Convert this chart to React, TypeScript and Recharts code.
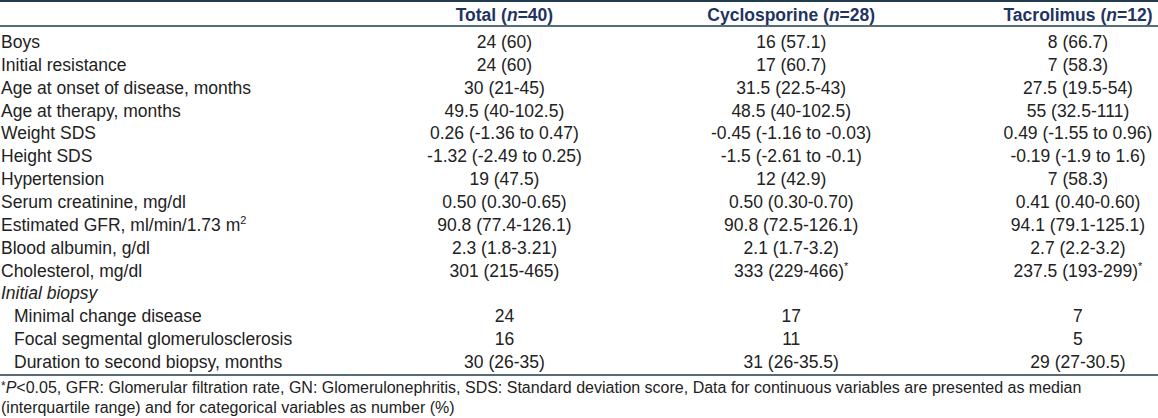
import React from "react";
import { ScatterChart, Scatter, XAxis, YAxis } from "recharts";

const FONT = "'Liberation Sans', Arial, Helvetica, sans-serif";
const TEXT = "#222222";
const HEAD = "#1f3461";
const RULE = "#1f3b4d";

// column headers
const columnHeaders = ["Total", "Cyclosporine", "Tacrolimus"];
const columnCounts = [40, 28, 12];

// row labels (y categories)
const rowLabels = [
    "Boys",
    "Initial resistance",
    "Age at onset of disease, months",
    "Age at therapy, months",
    "Weight SDS",
    "Height SDS",
    "Hypertension",
    "Serum creatinine, mg/dl",
    "Estimated GFR, ml/min/1.73 m²",
    "Blood albumin, g/dl",
    "Cholesterol, mg/dl",
    "Initial biopsy",
    "Minimal change disease",
    "Focal segmental glomerulosclerosis",
    "Duration to second biopsy, months",
];
const sectionRows = ["Initial biopsy"];
const subRows = [
    "Minimal change disease",
    "Focal segmental glomerulosclerosis",
    "Duration to second biopsy, months",
];

// cell values per column
const totalValues = [
    "24 (60)", "24 (60)", "30 (21-45)", "49.5 (40-102.5)", "0.26 (-1.36 to 0.47)",
    "-1.32 (-2.49 to 0.25)", "19 (47.5)", "0.50 (0.30-0.65)", "90.8 (77.4-126.1)",
    "2.3 (1.8-3.21)", "301 (215-465)", "", "24", "16", "30 (26-35)",
];
const cyclosporineValues = [
    "16 (57.1)", "17 (60.7)", "31.5 (22.5-43)", "48.5 (40-102.5)", "-0.45 (-1.16 to -0.03)",
    "-1.5 (-2.61 to -0.1)", "12 (42.9)", "0.50 (0.30-0.70)", "90.8 (72.5-126.1)",
    "2.1 (1.7-3.2)", "333 (229-466)*", "", "17", "11", "31 (26-35.5)",
];
const tacrolimusValues = [
    "8 (66.7)", "7 (58.3)", "27.5 (19.5-54)", "55 (32.5-111)", "0.49 (-1.55 to 0.96)",
    "-0.19 (-1.9 to 1.6)", "7 (58.3)", "0.41 (0.40-0.60)", "94.1 (79.1-125.1)",
    "2.7 (2.2-3.2)", "237.5 (193-299)*", "", "7", "5", "29 (27-30.5)",
];

const columns = [totalValues, cyclosporineValues, tacrolimusValues];
const rowTicks = rowLabels.map((_, i) => i);

const toCells = (values: string[], col: number) =>
    values
        .map((text, row) => ({ col, row, text }))
        .filter((d) => d.text !== "");

const HeaderTick = (props: any) => {
    const { x, y, payload } = props;
    const i = payload.value - 1;
    return (
        <text x={x} y={y} textAnchor="middle" fontSize={17.5} fontWeight="bold" fill={HEAD} fontFamily={FONT}>
            {columnHeaders[i]} (<tspan fontStyle="italic">n</tspan>={columnCounts[i]})
        </text>
    );
};

const RowLabelTick = (props: any) => {
    const { x, y, payload } = props;
    const label = rowLabels[payload.value];
    const indent = subRows.includes(label) ? 13 : 0;
    const italic = sectionRows.includes(label);
    const parts = label.split("²");
    return (
        <text
            x={x + indent}
            y={y}
            dy={6}
            textAnchor="start"
            fontSize={17.5}
            fontStyle={italic ? "italic" : "normal"}
            fill={TEXT}
            fontFamily={FONT}
        >
            {parts[0]}
            {parts.length > 1 && (
                <tspan fontSize={11} dy={-7}>
                    2
                </tspan>
            )}
        </text>
    );
};

const CellText = (props: any) => {
    const { cx, cy, payload } = props;
    const raw: string = payload.text;
    const star = raw.endsWith("*");
    const main = star ? raw.slice(0, -1) : raw;
    return (
        <text x={cx} y={cy} dy={6} textAnchor="middle" fontSize={17.5} fill={TEXT} fontFamily={FONT}>
            {main}
            {star && (
                <tspan fontSize={11} dy={-7}>
                    *
                </tspan>
            )}
        </text>
    );
};

const App = () => {
    return (
        <div
            style={{
                position: "absolute",
                left: 0,
                top: 0,
                width: 1158,
                height: 418,
                boxSizing: "border-box",
                borderTop: `2px solid ${RULE}`,
                background: "#fff",
                fontFamily: FONT,
                overflow: "hidden",
            }}
        >
            <ScatterChart width={1158} height={376} margin={{ top: 0, right: 0, bottom: 2, left: 0 }}>
                <XAxis
                    xAxisId="cols"
                    orientation="top"
                    type="number"
                    dataKey="col"
                    domain={[-0.759, 3.279]}
                    ticks={[1, 2, 3]}
                    interval={0}
                    height={24}
                    tickSize={0}
                    tickMargin={5}
                    tickLine={false}
                    stroke={RULE}
                    strokeWidth={1.3}
                    tick={<HeaderTick />}
                />
                <XAxis
                    xAxisId="rule"
                    orientation="bottom"
                    type="number"
                    domain={[-0.759, 3.279]}
                    height={1}
                    tick={false}
                    tickLine={false}
                    stroke={RULE}
                    strokeWidth={1.3}
                />
                <YAxis
                    yAxisId="rows"
                    type="number"
                    dataKey="row"
                    reversed
                    domain={[-0.7, 14.569]}
                    ticks={rowTicks}
                    interval={0}
                    width={1}
                    mirror
                    tickSize={0}
                    tickMargin={1}
                    axisLine={false}
                    tickLine={false}
                    tick={<RowLabelTick />}
                />
                {columns.map((values, k) => (
                    <Scatter
                        key={columnHeaders[k]}
                        name={columnHeaders[k]}
                        data={toCells(values, k + 1)}
                        xAxisId="cols"
                        yAxisId="rows"
                        shape={(p: any) => <CellText {...p} />}
                        isAnimationActive={false}
                    />
                ))}
            </ScatterChart>
            <div style={{ fontSize: 16, lineHeight: "18.5px", marginTop: 1, paddingLeft: 1, color: TEXT }}>
                <span style={{ fontSize: 12, position: "relative", top: -3 }}>*</span>
                <i>P</i>&lt;0.05, GFR: Glomerular filtration rate, GN: Glomerulonephritis, SDS: Standard
                deviation score, Data for continuous variables are presented as median
                <br />
                (interquartile range) and for categorical variables as number (%)
            </div>
        </div>
    );
};

export default App;
